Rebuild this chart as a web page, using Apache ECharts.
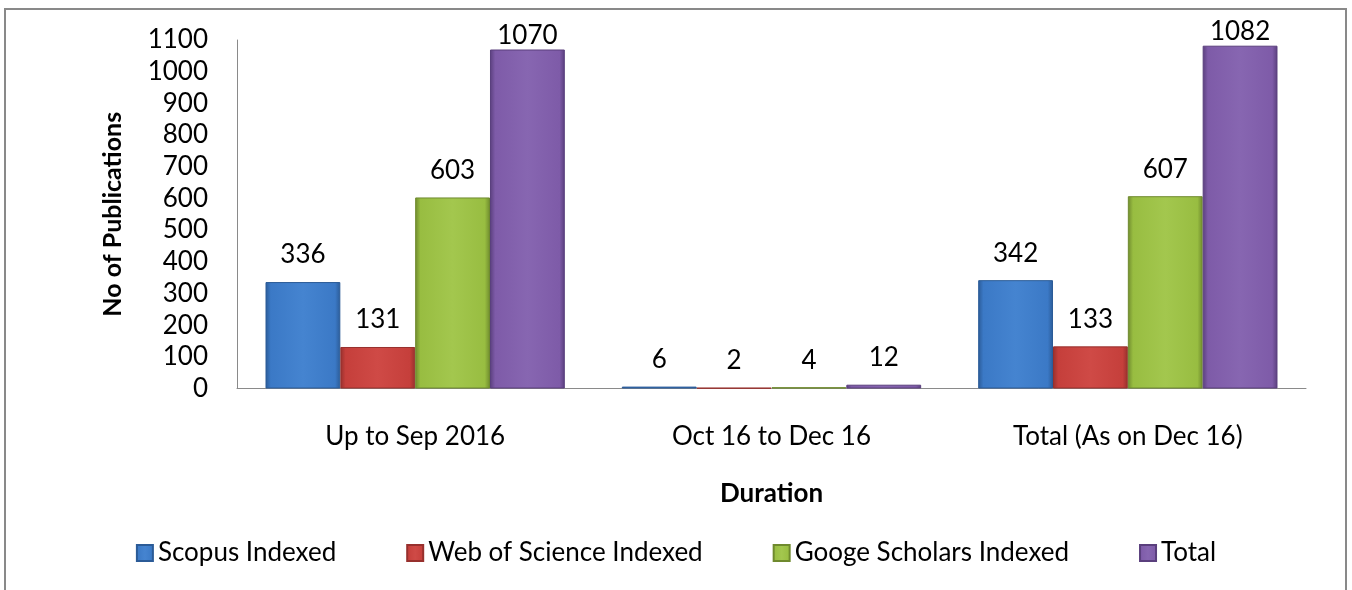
<!DOCTYPE html>
<html>
<head>
<meta charset="utf-8">
<script src="https://cdn.jsdelivr.net/npm/echarts@6/dist/echarts.min.js"></script>
<style>
  html, body { margin: 0; padding: 0; background: #fff; }
  #chart { width: 1352px; height: 590px; }
</style>
</head>
<body>
<div id="chart"></div>
<script>
const categories = ["Up to Sep 2016", "Oct 16 to Dec 16", "Total (As on Dec 16)"];
const seriesNames = ["Scopus Indexed", "Web of Science Indexed", "Googe Scholars Indexed", "Total"];
const scopus = [336, 6, 342];
const webOfScience = [131, 2, 133];
const googleScholar = [603, 4, 607];
const total = [1070, 12, 1082];
const yTicks = [0, 100, 200, 300, 400, 500, 600, 700, 800, 900, 1000, 1100];

const FONT = "Lato";
// edge / body colours for the bevel look
const palette = [
    { edge: "#2b5b97", body: "#3b79c6", light: "#4584d0" },
    { edge: "#97302d", body: "#c53f3b", light: "#cf4a46" },
    { edge: "#6f8a2e", body: "#98bd41", light: "#a3c74e" },
    { edge: "#5a3f7d", body: "#7e5ba8", light: "#8766b1" }
];

function barFill(c) {
    return new echarts.graphic.LinearGradient(0, 0, 1, 0, [
        { offset: 0, color: c.edge },
        { offset: 0.07, color: c.body },
        { offset: 0.5, color: c.light },
        { offset: 0.93, color: c.body },
        { offset: 1, color: c.edge }
    ]);
}

const values = [scopus, webOfScience, googleScholar, total];

const chart = echarts.init(document.getElementById("chart"));
chart.setOption({
    animation: false,
    backgroundColor: "#fff",
    color: palette.map(p => p.body),
    textStyle: { fontFamily: FONT, color: "#000" },
    graphic: [{
        type: "rect",
        shape: { x: 5, y: 9, width: 1341, height: 640 },
        style: { fill: "none", stroke: "#898989", lineWidth: 2 },
        silent: true
    }],
    grid: { left: 237, right: 46, top: 40, bottom: 201.5 },
    legend: {
        bottom: 19,
        left: "center",
        itemWidth: 16,
        itemHeight: 16,
        itemGap: 70,
        icon: "rect",
        textStyle: { fontFamily: FONT, fontSize: 26, color: "#000" },
        data: seriesNames
    },
    xAxis: {
        type: "category",
        data: categories,
        name: "Duration",
        nameLocation: "middle",
        nameGap: 92,
        nameTextStyle: { fontFamily: FONT, fontSize: 26, fontWeight: "bold", color: "#000" },
        axisLine: { lineStyle: { color: "#8a8a8a", width: 1 } },
        axisTick: { show: false },
        axisLabel: { fontFamily: FONT, fontSize: 26, color: "#000", margin: 35 }
    },
    yAxis: {
        type: "value",
        min: yTicks[0],
        max: yTicks[yTicks.length - 1],
        interval: 100,
        name: "No of Publications",
        nameLocation: "middle",
        nameGap: 112,
        nameRotate: 90,
        nameTextStyle: { fontFamily: FONT, fontSize: 25, fontWeight: "bold", color: "#000" },
        axisLine: { show: true, lineStyle: { color: "#8a8a8a", width: 1 } },
        axisTick: { show: false },
        splitLine: { show: false },
        axisLabel: {
            fontFamily: FONT, fontSize: 26, color: "#000", margin: 29,
            formatter: v => String(v)
        }
    },
    series: seriesNames.map((name, i) => ({
        name: name,
        type: "bar",
        barGap: "0%",
        barCategoryGap: "16%",
        itemStyle: { color: barFill(palette[i]), borderColor: palette[i].edge, borderWidth: 1 },
        data: values[i].map(v => ({
            value: v,
            label: { distance: v > 1000 ? 1 : 14 }
        })),
        label: {
            show: true,
            position: "top",
            fontFamily: FONT,
            fontSize: 26,
            color: "#000"
        }
    }))
});
</script>
</body>
</html>
